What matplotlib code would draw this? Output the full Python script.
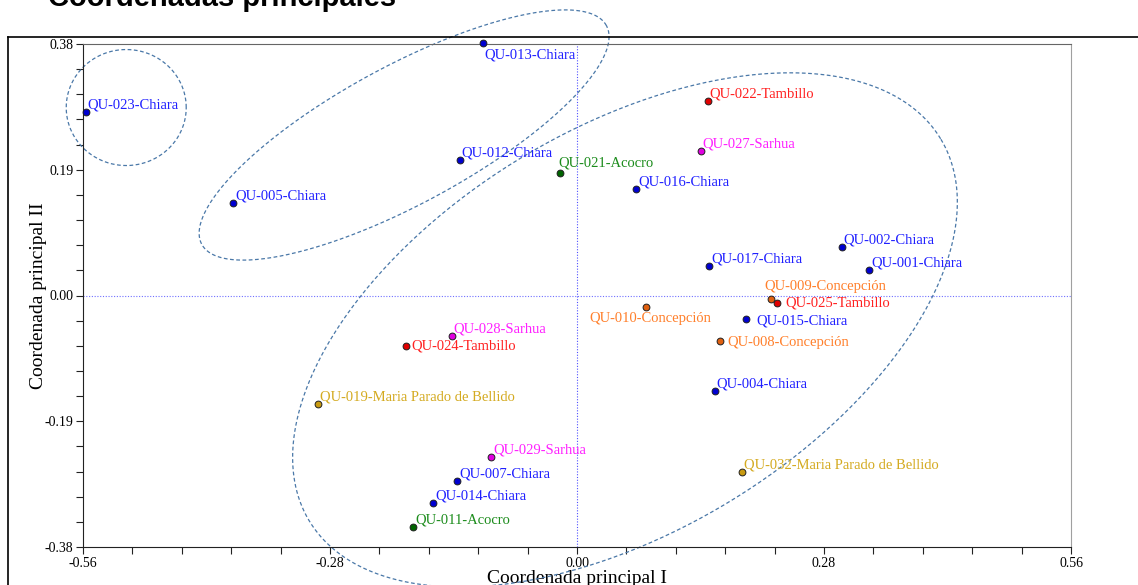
import numpy as np
import matplotlib
matplotlib.use("Agg")
import matplotlib.pyplot as plt
from matplotlib.ticker import MultipleLocator, FormatStrFormatter
from matplotlib.lines import Line2D

plt.rcParams['axes.unicode_minus'] = False

# muestras y coordenadas principales
codigos = ["QU-023", "QU-013", "QU-022", "QU-027", "QU-012", "QU-021", "QU-016",
           "QU-005", "QU-002", "QU-017", "QU-001", "QU-009", "QU-025", "QU-010",
           "QU-015", "QU-008", "QU-028", "QU-024", "QU-004", "QU-019", "QU-029",
           "QU-032", "QU-007", "QU-014", "QU-011"]
comunidad = ["Chiara", "Chiara", "Tambillo", "Sarhua", "Chiara", "Acocro", "Chiara",
             "Chiara", "Chiara", "Chiara", "Chiara", "Concepción", "Tambillo", "Concepción",
             "Chiara", "Concepción", "Sarhua", "Tambillo", "Chiara", "Maria Parado de Bellido", "Sarhua",
             "Maria Parado de Bellido", "Chiara", "Chiara", "Acocro"]
coord1 = [-0.557, -0.106, 0.148, 0.140, -0.133, -0.019, 0.067,
          -0.390, 0.300, 0.150, 0.331, 0.220, 0.227, 0.078,
          0.192, 0.162, -0.142, -0.194, 0.156, -0.294, -0.097,
          0.187, -0.136, -0.163, -0.186]
coord2 = [0.277, 0.381, 0.294, 0.218, 0.205, 0.185, 0.161,
          0.140, 0.073, 0.045, 0.039, -0.006, -0.012, -0.017,
          -0.036, -0.068, -0.061, -0.077, -0.145, -0.164, -0.244,
          -0.267, -0.281, -0.314, -0.350]

# colores por comunidad: (punto, texto)
colores = {
    "Chiara": ("#0000d0", "#2020ff"),
    "Tambillo": ("#e00000", "#ff2020"),
    "Sarhua": ("#e000e0", "#ff20ff"),
    "Acocro": ("#006400", "#1c8c1c"),
    "Concepción": ("#e06010", "#ff7f2a"),
    "Maria Parado de Bellido": ("#c89a10", "#d4aa20"),
}

# desplazamiento de etiquetas en pixeles (dx, dy hacia abajo)
desp = {"QU-013": (1, 12), "QU-021": (-2, -10), "QU-009": (-7, -13),
        "QU-025": (8, 0), "QU-010": (5, 12), "QU-015": (10, 2),
        "QU-008": (7, 2), "QU-024": (6, 0)}

# elipses de agrupamiento: centro (datos), semiejes (px), angulo (grados)
elipses = [(-0.511, 0.284, 60, 58, 0),
           (-0.196, 0.2425, 230, 69, 28.4),
           (0.0544, -0.052, 369, 201, 31.2)]

fig = plt.figure(figsize=(11.38, 5.85), dpi=100)
ax = fig.add_axes([83/1138, 38/585, 988/1138, 503/585])
ax.set_xlim(-0.56, 0.56)
ax.set_ylim(-0.38, 0.38)

sx = 988 / 1.12
sy = 503 / 0.76

ax.axhline(0, color="#7070ff", lw=0.8, ls=(0, (1, 1.5)), zorder=1)
ax.axvline(0, color="#5050ff", lw=0.8, ls=(0, (1, 1.5)), zorder=1)

t = np.linspace(0, 2*np.pi, 500)
for cx, cy, a, b, ang in elipses:
    th = np.radians(ang)
    u, v = a*np.cos(t), b*np.sin(t)
    ex = cx + (u*np.cos(th) - v*np.sin(th)) / sx
    ey = cy + (u*np.sin(th) + v*np.cos(th)) / sy
    ax.plot(ex, ey, color="#4a78a8", lw=0.9, ls=(0, (3, 2)), clip_on=False, zorder=2)

for i in range(len(codigos)):
    cpt, ctx = colores[comunidad[i]]
    ax.scatter(coord1[i], coord2[i], s=24, color=cpt, edgecolor="#202020",
               linewidth=0.7, zorder=4, clip_on=False)
    dx, dy = desp.get(codigos[i], (2, -7))
    ha = "center" if codigos[i] == "QU-010" else "left"
    ax.annotate(f"{codigos[i]}-{comunidad[i]}", (coord1[i], coord2[i]),
                xytext=(dx*0.72, -dy*0.72), textcoords="offset points",
                ha=ha, va="center", color=ctx, fontsize=10.5,
                family="Liberation Serif", zorder=5, annotation_clip=False)

ax.xaxis.set_major_locator(MultipleLocator(0.28))
ax.xaxis.set_minor_locator(MultipleLocator(0.056))
ax.yaxis.set_major_locator(MultipleLocator(0.19))
ax.yaxis.set_minor_locator(MultipleLocator(0.038))
ax.xaxis.set_major_formatter(FormatStrFormatter("%.2f"))
ax.yaxis.set_major_formatter(FormatStrFormatter("%.2f"))
ax.tick_params(which="both", direction="out", length=5, width=0.8, color="#222222")
ax.tick_params(which="major", labelsize=10, pad=2)
for lab in ax.get_xticklabels() + ax.get_yticklabels():
    lab.set_family("Liberation Serif")

ax.spines["left"].set_color("#222222")
ax.spines["bottom"].set_color("#222222")
ax.spines["top"].set_color("#666666")
ax.spines["right"].set_color("#a0a0a0")

ax.set_xlabel("Coordenada principal I", family="Liberation Serif", fontsize=14)
ax.set_ylabel("Coordenada principal II", family="Liberation Serif", fontsize=14)
ax.xaxis.set_label_coords(0.5, -0.045)
ax.yaxis.set_label_coords(-0.036, 0.5)

# marco exterior
fig.add_artist(Line2D([8/1138, 1.0], [1 - 36.5/585, 1 - 36.5/585], color="black", lw=1.2))
fig.add_artist(Line2D([8/1138, 8/1138], [0, 1 - 36.5/585], color="black", lw=1.2))

fig.text(48/1138, 1 - 6/585, "Coordenadas principales", fontsize=21, fontweight="bold",
         family="Liberation Sans", va="baseline", ha="left")

fig.savefig("out.png", dpi=100)
